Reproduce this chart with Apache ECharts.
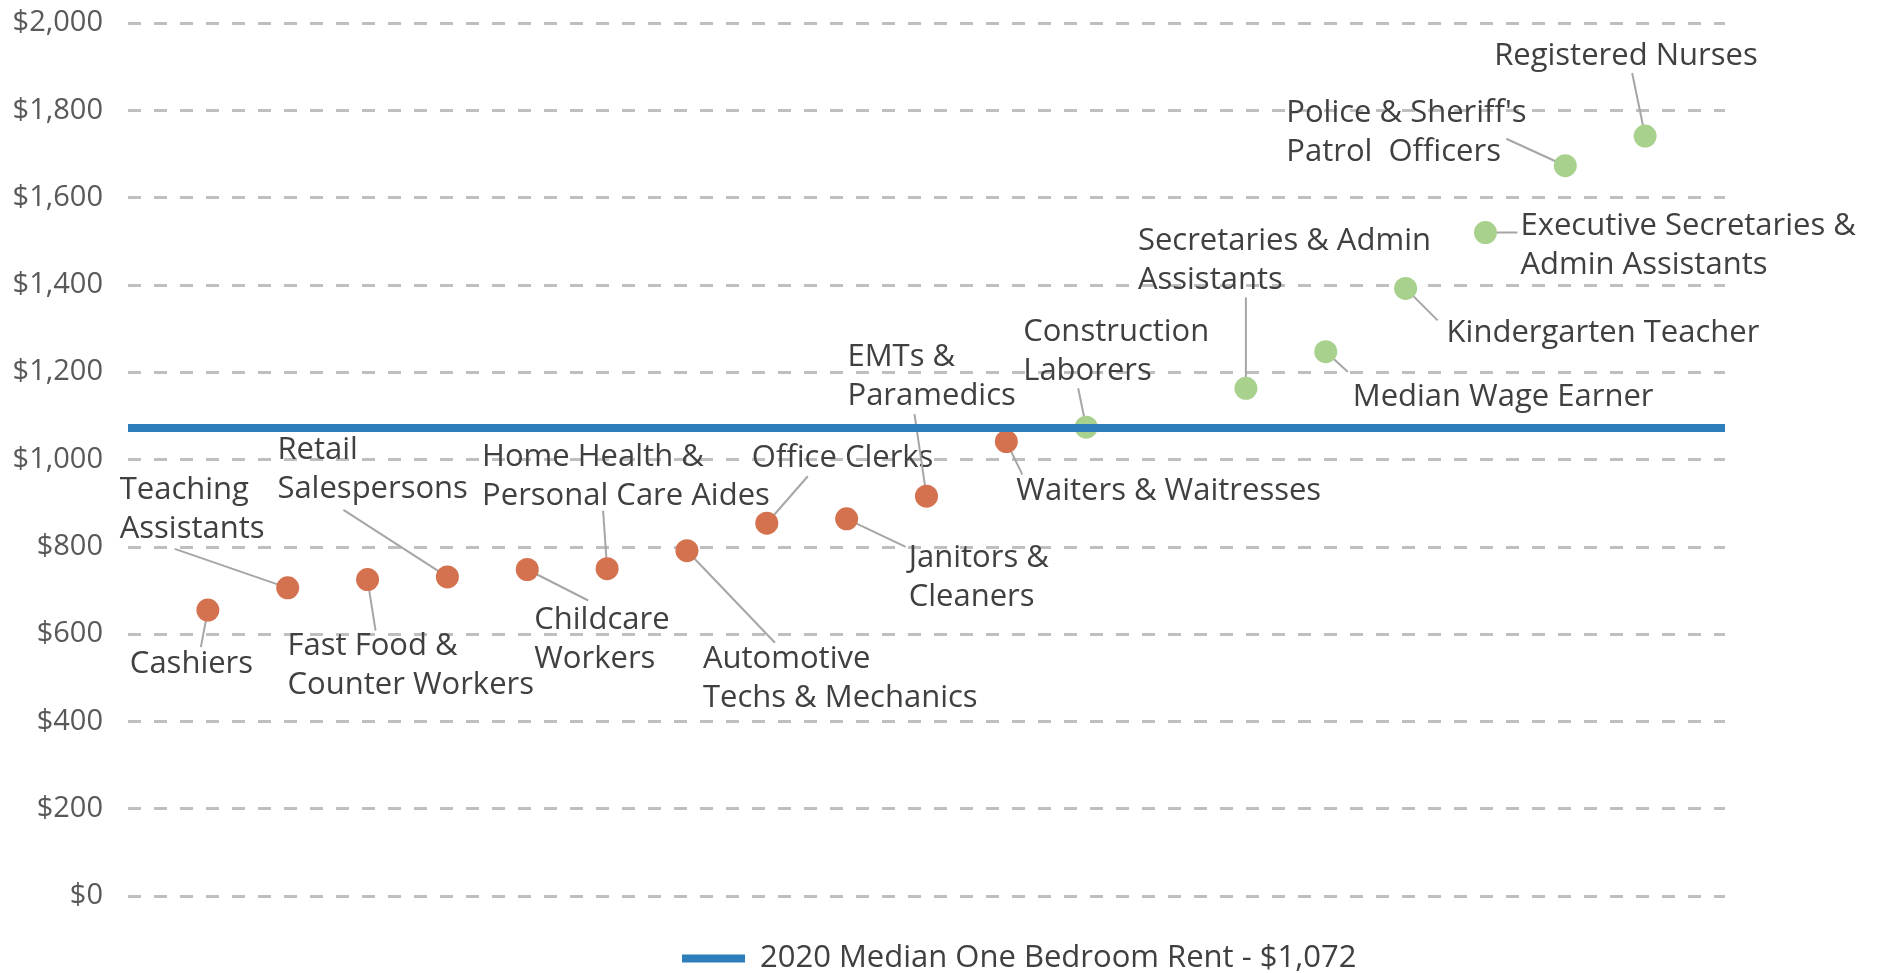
<!DOCTYPE html>
<html>
<head>
<meta charset="utf-8">
<script src="https://cdn.jsdelivr.net/npm/echarts@6/dist/echarts.min.js"></script>
<style>
  html, body { margin: 0; padding: 0; background: #fff; }
  #main { width: 1879px; height: 973px; }
</style>
</head>
<body>
<div id="main"></div>
<script>
// monthly rent each occupation can afford
const jobNames = [
  'Cashiers',
  'Teaching\nAssistants',
  'Fast Food &\nCounter Workers',
  'Retail\nSalespersons',
  'Childcare\nWorkers',
  'Home Health &\nPersonal Care Aides',
  'Automotive\nTechs & Mechanics',
  'Office Clerks',
  'Janitors &\nCleaners',
  'EMTs &\nParamedics',
  'Waiters & Waitresses',
  'Construction\nLaborers',
  'Secretaries & Admin\nAssistants',
  'Median Wage Earner',
  'Kindergarten Teacher',
  'Executive Secretaries &\nAdmin Assistants',
  "Police & Sheriff's\nPatrol  Officers",
  'Registered Nurses'
];
const jobSlots = [1, 2, 3, 4, 5, 6, 7, 8, 9, 10, 11, 12, 14, 15, 16, 17, 18, 19];
const affordableRent = [655, 706, 725, 731, 748, 750, 791, 854, 864, 916, 1041, 1074, 1163, 1247, 1392, 1520, 1673, 1741];

const medianRent = 1072;
const rentName = '2020 Median One Bedroom Rent - $1,072';
const yTicks = { min: 0, max: 2000, step: 200 };

// label placement, pixels from the dot: lx/ly = label left edge / middle, ex/ey = leader end
const labelPlacement = [
  { lx: -78, ly: 54, ex: -7, ey: 37 },
  { lx: -168, ly: -78, ex: -113, ey: -39 },
  { lx: -80, ly: 86, ex: 8, ey: 51 },
  { lx: -170, ly: -107, ex: -104, ey: -67 },
  { lx: 7, ly: 70, ex: 61, ey: 31 },
  { lx: -125, ly: -92, ex: -4, ey: -58 },
  { lx: 16, ly: 128, ex: 88, ey: 92 },
  { lx: -15, ly: -65, ex: 41, ey: -47 },
  { lx: 62, ly: 59, ex: 59, ey: 28 },
  { lx: -79, ly: -119, ex: -12, ey: -82 },
  { lx: 10, ly: 50, ex: 16, ey: 33 },
  { lx: -63, ly: -76, ex: -8, ey: -39 },
  { lx: -108, ly: -128, ex: 0, ey: -91 },
  { lx: 27, ly: 45, ex: 22, ey: 20 },
  { lx: 41, ly: 45, ex: 32, ey: 32 },
  { lx: 35, ly: 13, ex: 32, ey: 0 },
  { lx: -279, ly: -33, ex: -59, ey: -27 },
  { lx: -151, ly: -80, ex: -13, ey: -63 }
];

const FONT = "'Open Sans', 'Noto Sans', sans-serif";
const LOW = '#d4714f';
const HIGH = '#a9d18e';

const points = jobSlots.map(function (x, i) {
  return {
    value: [x, affordableRent[i]],
    itemStyle: { color: affordableRent[i] >= medianRent ? HIGH : LOW }
  };
});

const chart = echarts.init(document.getElementById('main'));

const option = {
  animation: false,
  backgroundColor: '#ffffff',
  grid: { left: 128, right: 154, top: 23, bottom: 77 },
  legend: {
    data: [rentName],
    left: 677,
    top: 938,
    icon: 'rect',
    itemWidth: 63,
    itemHeight: 8,
    textStyle: { fontFamily: FONT, fontSize: 31, color: '#404040', padding: [0, 0, 0, 10] }
  },
  xAxis: {
    type: 'value',
    min: 0,
    max: 20,
    show: false
  },
  yAxis: {
    type: 'value',
    min: yTicks.min,
    max: yTicks.max,
    interval: yTicks.step,
    axisLine: { show: false },
    axisTick: { show: false },
    axisLabel: {
      margin: 25,
      color: '#595959',
      fontFamily: FONT,
      fontSize: 29,
      formatter: function (v) { return '$' + v.toLocaleString('en-US'); }
    },
    splitLine: {
      lineStyle: { color: '#bfbfbf', width: 3, type: [13, 13] }
    }
  },
  series: [
    {
      name: 'Occupations',
      type: 'scatter',
      symbolSize: 23,
      itemStyle: { opacity: 1 },
      data: points
    },
    {
      name: 'Labels',
      type: 'custom',
      data: points.map(function (p) { return p.value; }),
      renderItem: function (params, api) {
        const i = params.dataIndex;
        const c = api.coord([api.value(0), api.value(1)]);
        const pl = labelPlacement[i];
        return {
          type: 'group',
          children: [
            {
              type: 'line',
              shape: { x1: c[0], y1: c[1], x2: c[0] + pl.ex, y2: c[1] + pl.ey },
              style: { stroke: '#a6a6a6', lineWidth: 2 }
            },
            {
              type: 'text',
              x: c[0] + pl.lx,
              y: c[1] + pl.ly,
              style: {
                text: jobNames[i],
                fill: '#404040',
                fontFamily: FONT,
                fontSize: 31,
                lineHeight: 39,
                align: 'left',
                verticalAlign: 'middle'
              }
            }
          ]
        };
      }
    },
    {
      name: rentName,
      type: 'line',
      symbol: 'none',
      color: '#2e7ebb',
      lineStyle: { width: 8, color: '#2e7ebb' },
      data: [[0, medianRent], [20, medianRent]]
    }
  ]
};

chart.setOption(option);
</script>
</body>
</html>
